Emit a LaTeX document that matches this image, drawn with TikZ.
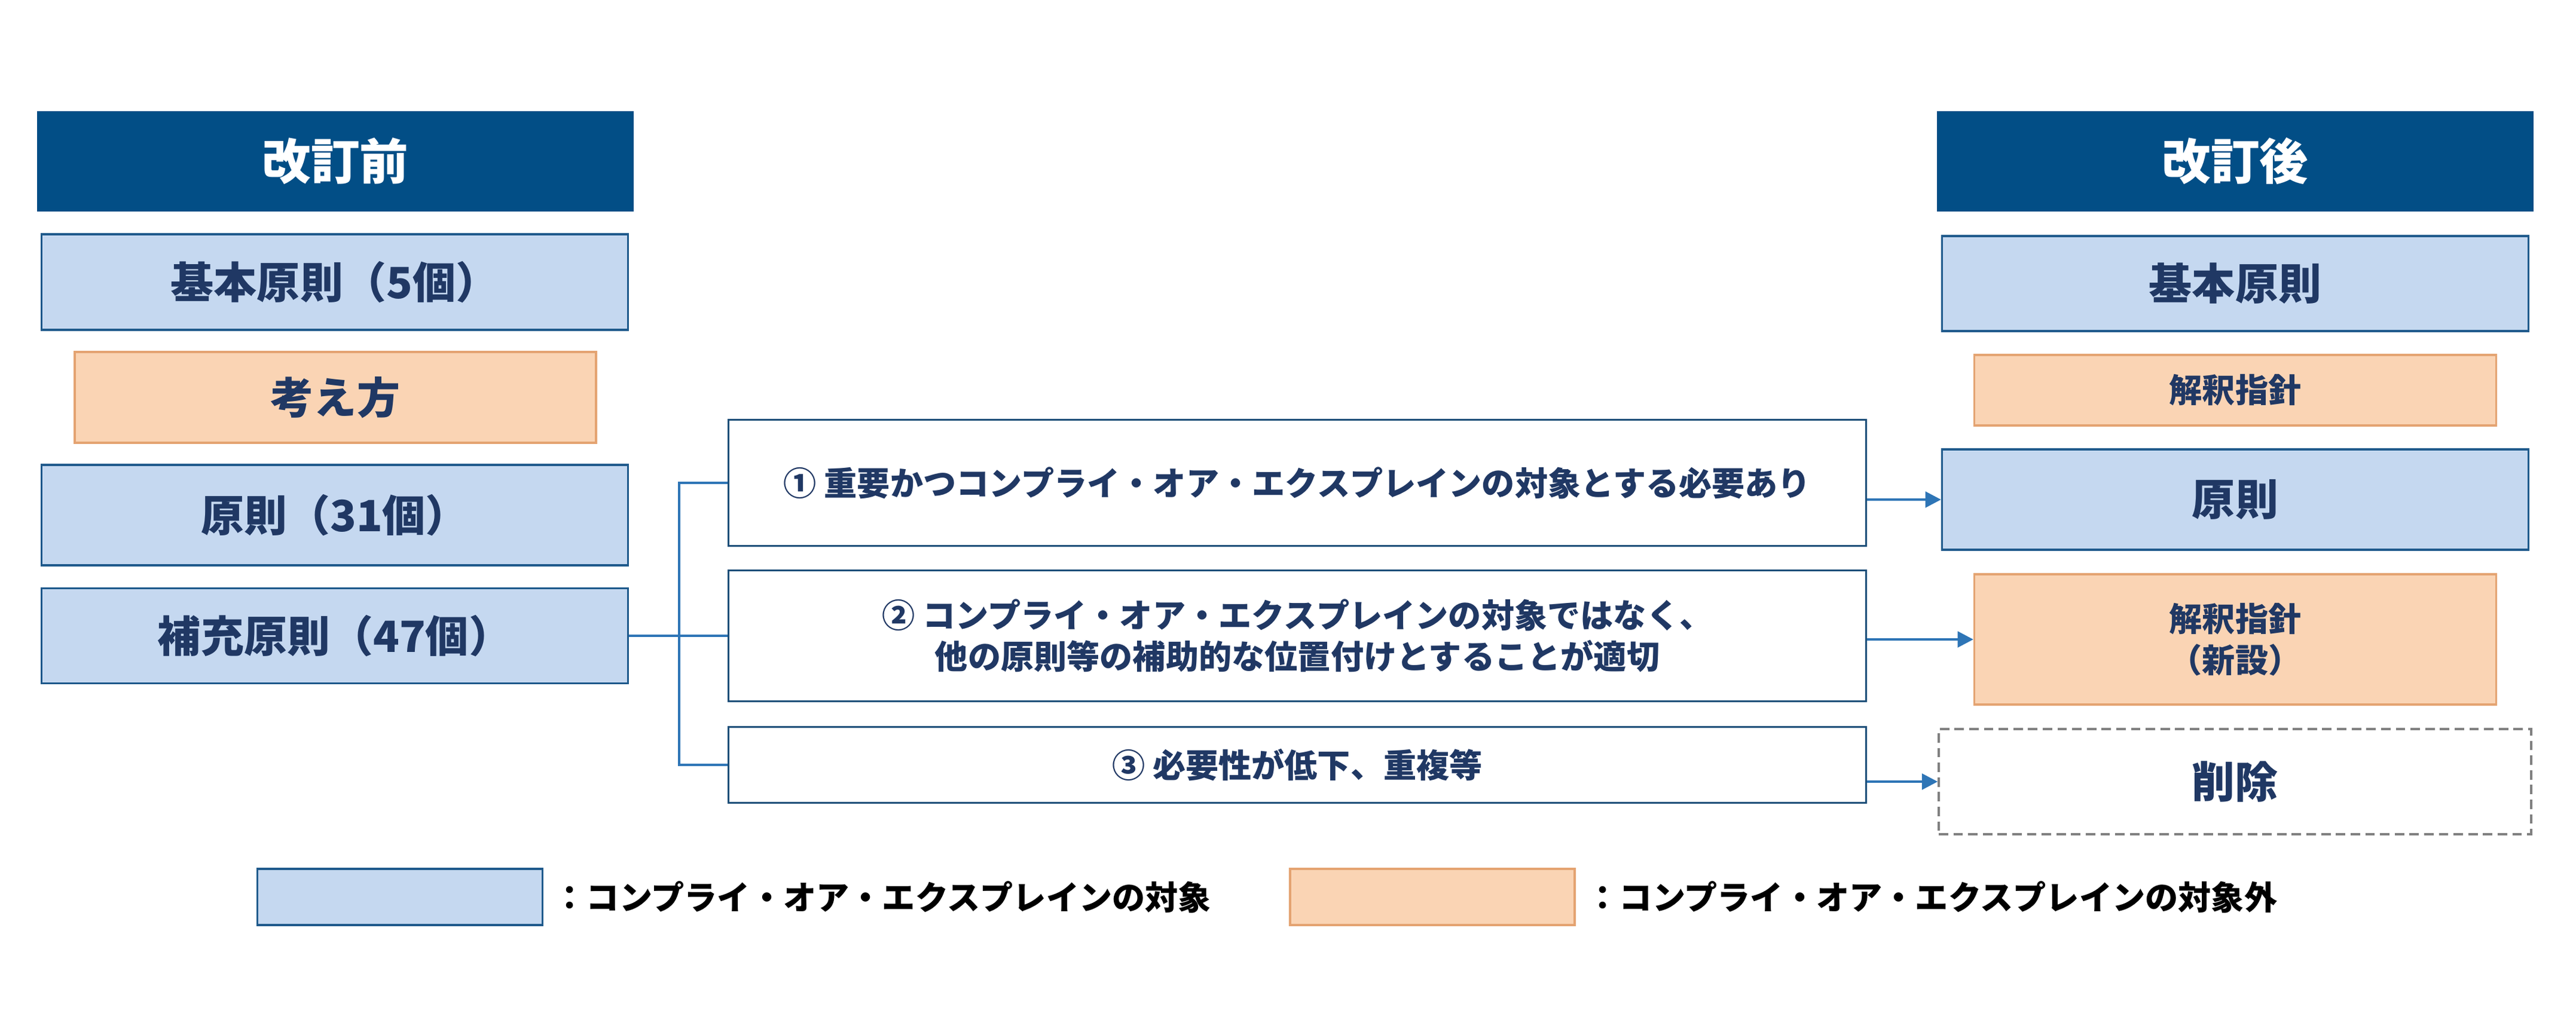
\documentclass[tikz,border=0pt]{standalone}
\usepackage{fontspec}
\setmainfont{Noto Sans CJK JP}
\usetikzlibrary{arrows.meta}

\definecolor{headblue}{RGB}{2,78,134}
\definecolor{boxblue}{RGB}{197,216,240}
\definecolor{lineblue}{RGB}{31,90,140}
\definecolor{boxorange}{RGB}{250,212,180}
\definecolor{lineorange}{RGB}{228,163,113}
\definecolor{optline}{RGB}{28,78,120}
\definecolor{connblue}{RGB}{46,117,182}
\definecolor{textnavy}{RGB}{32,56,100}

\begin{document}
\begin{tikzpicture}[
    every node/.style={text=textnavy, inner sep=0pt, align=center},
    big/.style={font=\fontsize{20.5}{24}\selectfont\bfseries},
    small/.style={font=\fontsize{15.7}{19.5}\selectfont\bfseries},
    head/.style={fill=headblue, text=white, minimum width=9.98cm, minimum height=1.68cm,
        font=\fontsize{23.2}{27}\selectfont\bfseries},
    bluebox/.style={draw=lineblue, fill=boxblue, line width=0.9pt, minimum width=9.81cm},
    orangebox/.style={draw=lineorange, fill=boxorange, line width=0.9pt, minimum width=8.73cm},
    optbox/.style={draw=optline, fill=white, line width=1.1pt, minimum width=19.03cm, small},
    delbox/.style={draw=gray, dash pattern=on 4.5pt off 2.5pt, line width=1pt},
    conn/.style={draw=connblue, line width=1.3pt},
    arr/.style={conn, -{Triangle[length=7.5pt,width=7.5pt]}}
]
    \useasboundingbox (0,0) rectangle (43.09,-17.31);

    % before revision
    \node[head] (pre) at (5.61,-2.70) {改訂前};
    \node[bluebox, big, minimum height=1.60cm] (kihon5) at (5.60,-4.72) {基本原則（5個）};
    \node[orangebox, big, minimum width=8.72cm, minimum height=1.52cm] (kangae) at (5.61,-6.65) {考え方};
    \node[bluebox, big, minimum height=1.68cm] (gen31) at (5.60,-8.62) {原則（31個）};
    \node[bluebox, big, minimum height=1.59cm] (hoju47) at (5.60,-10.64) {補充原則（47個）};

    % sorting of the supplementary principles
    \node[optbox, minimum height=2.11cm] (opt1) at (21.70,-8.08)
        {① 重要かつコンプライ・オア・エクスプレインの対象とする必要あり};
    \node[optbox, minimum height=2.19cm] (opt2) at (21.70,-10.64)
        {② コンプライ・オア・エクスプレインの対象ではなく、\\他の原則等の補助的な位置付けとすることが適切};
    \node[optbox, minimum height=1.27cm] (opt3) at (21.70,-12.80) {③ 必要性が低下、重複等};

    % after revision
    \node[head] (post) at (37.39,-2.70) {改訂後};
    \node[bluebox, big, minimum height=1.59cm] (kihon) at (37.39,-4.745) {基本原則};
    \node[orangebox, small, minimum height=1.18cm] (kaishaku) at (37.39,-6.53) {解釈指針};
    \node[bluebox, big, minimum height=1.68cm] (gensoku) at (37.39,-8.36) {原則};
    \node[orangebox, small, minimum height=2.18cm] (kaishakuNew) at (37.39,-10.70) {解釈指針\\（新設）};
    \node[delbox, big, minimum width=9.91cm, minimum height=1.76cm] (sakujo) at (37.385,-13.08) {削除};

    % connectors
    \coordinate (brk) at (11.36,-10.64);
    \draw[conn] (hoju47.east) -- (opt2.west);
    \draw[conn] (opt1.west) -| (brk) |- (opt3.west);
    \foreach \a/\b in {opt1/gensoku, opt2/kaishakuNew, opt3/sakujo} {
        \draw[arr] (\a.east |- \b.west) -- (\b.west);
    }

    % legend
    \node[bluebox, minimum width=4.77cm, minimum height=0.94cm] (legBlue) at (6.69,-15.01) {};
    \node[small, text=black, anchor=west] (legBlueText) at (9.25,-15.01)
        {：コンプライ・オア・エクスプレインの対象};
    \node[orangebox, minimum width=4.76cm, minimum height=0.94cm] (legOrange) at (23.96,-15.01) {};
    \node[small, text=black, anchor=west] (legOrangeText) at (26.53,-15.01)
        {：コンプライ・オア・エクスプレインの対象外};
\end{tikzpicture}
\end{document}
